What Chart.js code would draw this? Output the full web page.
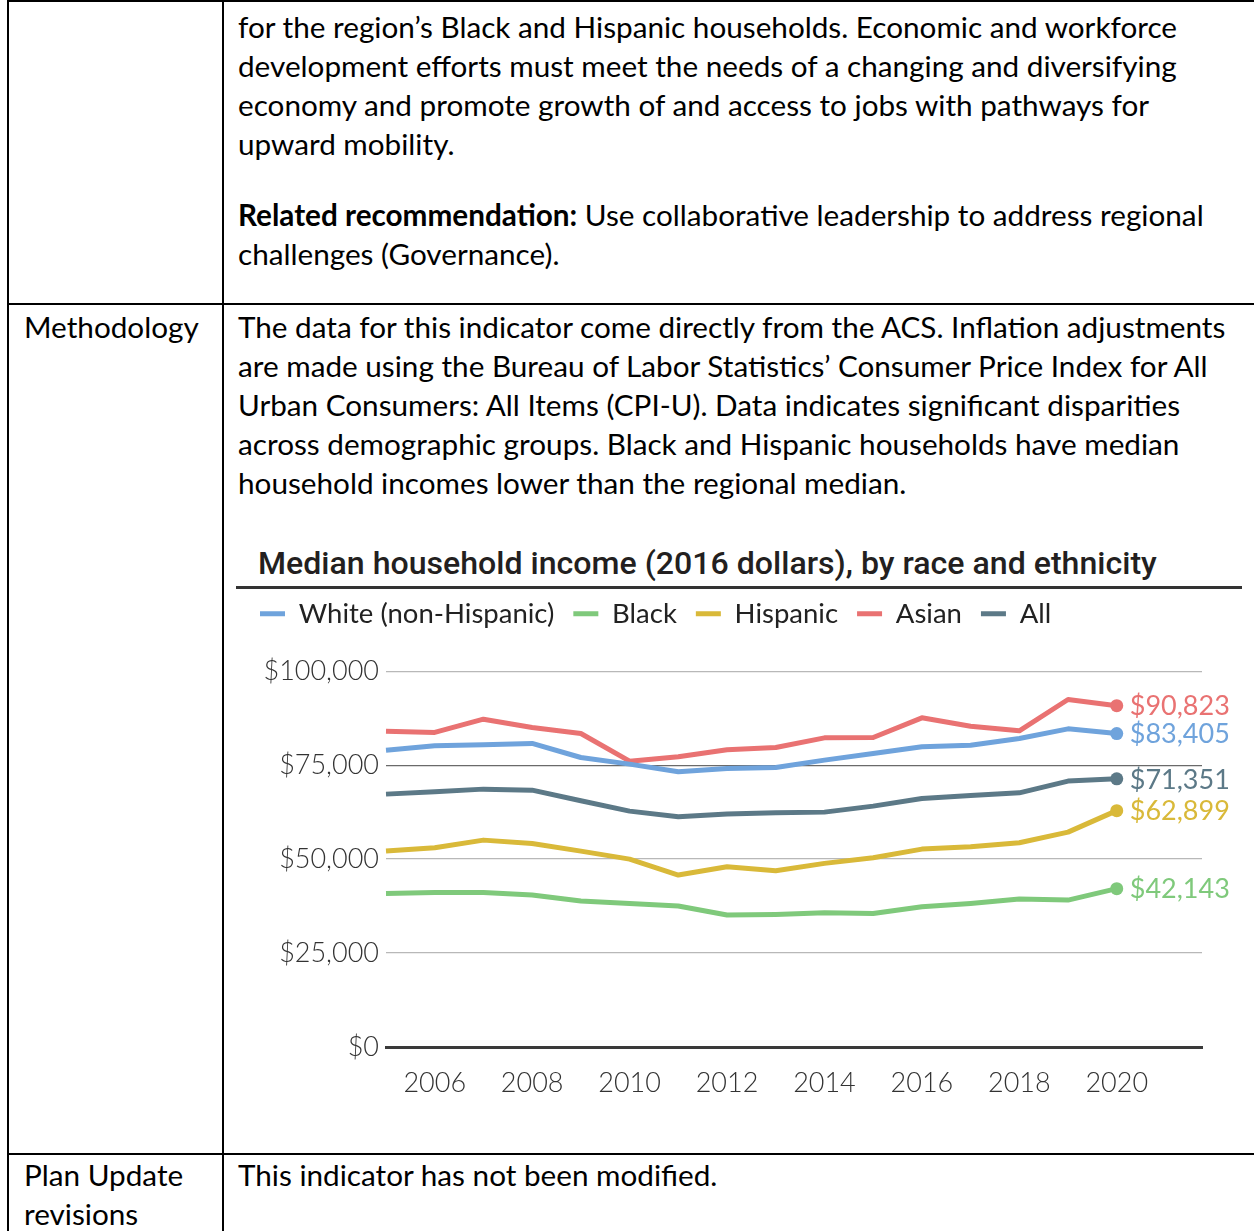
<!DOCTYPE html>
<html><head><meta charset="utf-8">
<script src="https://cdn.jsdelivr.net/npm/chart.js@4.4.1/dist/chart.umd.min.js"></script>
<style>
html,body{margin:0;padding:0;background:#fff;}
body{width:1254px;height:1231px;position:relative;overflow:hidden;font-family:Lato,sans-serif;color:#000;}
.ln{position:absolute;background:#000;}
.t{position:absolute;white-space:nowrap;line-height:39px;font-family:Lato,sans-serif;color:#000;}
.t b{font-weight:700;}
#title{position:absolute;left:258px;white-space:nowrap;font-family:Roboto,sans-serif;font-weight:500;color:#231f20;line-height:1;}
#rule{position:absolute;left:236px;top:586px;width:1006px;height:3px;background:#333;}
#wrap{position:absolute;left:236px;top:581px;width:1018px;height:549px;}
</style></head><body>
<div class="ln" style="left:7px;top:0;width:1247px;height:2px"></div>
<div class="ln" style="left:7px;top:0;width:2px;height:1231px"></div>
<div class="ln" style="left:222px;top:0;width:2px;height:1231px"></div>
<div class="ln" style="left:7px;top:303px;width:1247px;height:2px"></div>
<div class="ln" style="left:7px;top:1153px;width:1247px;height:2px"></div>

<div class="t" style="left:238px" data-b="38">for the region’s Black and Hispanic households. Economic and workforce</div>
<div class="t" style="left:238px" data-b="77">development efforts must meet the needs of a changing and diversifying</div>
<div class="t" style="left:238px" data-b="116">economy and promote growth of and access to jobs with pathways for</div>
<div class="t" style="left:238px" data-b="155">upward mobility.</div>
<div class="t" style="left:238px" data-b="226"><b>Related recommendation:</b> Use collaborative leadership to address regional</div>
<div class="t" style="left:238px" data-b="265">challenges (Governance).</div>

<div class="t" style="left:24px" data-b="338">Methodology</div>
<div class="t" id="fitline" style="left:238px" data-b="338">The data for this indicator come directly from the ACS. Inflation adjustments</div>
<div class="t" style="left:238px" data-b="377">are made using the Bureau of Labor Statistics’ Consumer Price Index for All</div>
<div class="t" style="left:238px" data-b="416">Urban Consumers: All Items (CPI-U). Data indicates significant disparities</div>
<div class="t" style="left:238px" data-b="455">across demographic groups. Black and Hispanic households have median</div>
<div class="t" style="left:238px" data-b="494">household incomes lower than the regional median.</div>

<div class="t" style="left:24px" data-b="1186">Plan Update</div>
<div class="t" style="left:24px" data-b="1225">revisions</div>
<div class="t" style="left:238px" data-b="1186">This indicator has not been modified.</div>

<div id="title">Median household income (2016 dollars), by race and ethnicity</div>
<div id="rule"></div>
<div id="wrap"><canvas id="c" width="1018" height="549"></canvas></div>

<script>
// ---- data ----
const years = [2005,2006,2007,2008,2009,2010,2011,2012,2013,2014,2015,2016,2017,2018,2019,2020];
const seriesNames = ['White (non-Hispanic)','Black','Hispanic','Asian','All'];
const whiteValues    = [78990,80140,80410,80770,77040,75270,73230,74110,74380,76330,78100,79880,80320,82090,84660,83405];
const blackValues    = [40870,41140,41140,40430,38830,38210,37500,35110,35280,35730,35550,37320,38210,39360,39100,42143];
const hispanicValues = [52130,53020,55050,54170,52130,50000,45750,47960,46890,48860,50360,52660,53280,54340,57180,62899];
const asianValues    = [84040,83700,87230,85020,83420,76060,77220,79100,79700,82270,82360,87590,85370,84130,92470,90823];
const allValues      = [67290,67910,68620,68350,65510,62770,61250,61970,62320,62500,64100,66140,66940,67640,70750,71351];
const xTickValues = [2006,2008,2010,2012,2014,2016,2018,2020];
const yTickValues = [0,25000,50000,75000,100000];

const seriesValues = [whiteValues, blackValues, hispanicValues, asianValues, allValues];
const seriesColors = ['#6fa3dc','#7fc97b','#d9b939','#e97272','#5c7987'];

// ---- text layout ----
(function(){
  const m = document.createElement('canvas').getContext('2d');
  m.font = '400 100px Lato';
  const w = m.measureText(document.getElementById('fitline').textContent).width;
  const F = 100 * 991 / w;
  const off = (39 - 1.2 * F) / 2 + 0.987 * F;
  document.querySelectorAll('.t').forEach(el => {
    el.style.fontSize = F + 'px';
    el.style.top = (parseFloat(el.dataset.b) - off) + 'px';
  });
  const tEl = document.getElementById('title');
  m.font = '500 100px Roboto';
  const tw = m.measureText(tEl.textContent).width;
  const TF = 100 * 899 / tw;
  tEl.style.fontSize = TF + 'px';
  tEl.style.top = (574 - 0.842 * TF) + 'px';
})();

// ---- chart ----
const endLabels = {
  id: 'endLabels',
  afterDatasetsDraw(chart) {
    const ctx = chart.ctx;
    ctx.save();
    ctx.font = '400 27px Lato';
    ctx.textBaseline = 'middle';
    ctx.textAlign = 'left';
    chart.data.datasets.forEach((ds, i) => {
      const meta = chart.getDatasetMeta(i);
      const pt = meta.data[meta.data.length - 1];
      const v = seriesValues[i][seriesValues[i].length - 1];
      ctx.fillStyle = seriesColors[i];
      ctx.fillText('$' + v.toLocaleString('en-US'), pt.x + 13, pt.y + 1);
    });
    ctx.restore();
  }
};

new Chart(document.getElementById('c'), {
  type: 'line',
  data: {
    datasets: seriesNames.map((name, i) => ({
      label: name,
      data: years.map((yr, j) => ({x: yr, y: seriesValues[i][j]})),
      borderColor: seriesColors[i],
      backgroundColor: seriesColors[i],
      borderWidth: 5,
      borderJoinStyle: 'round',
      tension: 0,
      pointRadius: c => c.dataIndex === years.length - 1 ? 6.5 : 0,
      pointBorderWidth: 0,
      pointHoverRadius: 0,
      clip: false
    }))
  },
  options: {
    responsive: false,
    animation: false,
    events: [],
    layout: {padding: {left: 5, right: 52, top: 0, bottom: 0}},
    plugins: {
      tooltip: {enabled: false},
      legend: {
        display: true, position: 'top', align: 'start',
        labels: {
          boxWidth: 25, boxHeight: 5, padding: 19, color: '#222',
          font: {family: 'Lato', size: 27.5},
          generateLabels: chart => Chart.defaults.plugins.legend.labels.generateLabels(chart)
            .map(l => Object.assign(l, {lineWidth: 0}))
        }
      },
      subtitle: {display: true, text: ' ', weight: 10, font: {size: 1}, padding: {top: 0, bottom: 32.5}}
    },
    scales: {
      x: {
        type: 'linear', min: 2005, max: 2021.75,
        afterBuildTicks: s => { s.ticks = xTickValues.map(v => ({value: v})); },
        afterFit: s => { s.height = 83; },
        grid: {display: false, drawTicks: false},
        border: {display: true, color: '#3a3a3a', width: 3},
        ticks: {padding: 20, color: '#333', autoSkip: false, maxRotation: 0,
          font: {family: 'Lato', size: 27, weight: 300}, callback: v => String(v)}
      },
      y: {
        min: 0, max: 100000,
        afterBuildTicks: s => { s.ticks = yTickValues.map(v => ({value: v})); },
        afterFit: s => { s.width = 145; },
        grid: {drawTicks: false, lineWidth: 1.3,
          color: c => c.tick.value === 0 ? 'rgba(0,0,0,0)' : (c.tick.value === 75000 ? '#6a6a6a' : '#b8b8b8')},
        border: {display: false},
        ticks: {padding: 7, color: '#333', font: {family: 'Lato', size: 27, weight: 300},
          callback: v => '$' + v.toLocaleString('en-US')}
      }
    }
  },
  plugins: [endLabels]
});
</script>
</body></html>
